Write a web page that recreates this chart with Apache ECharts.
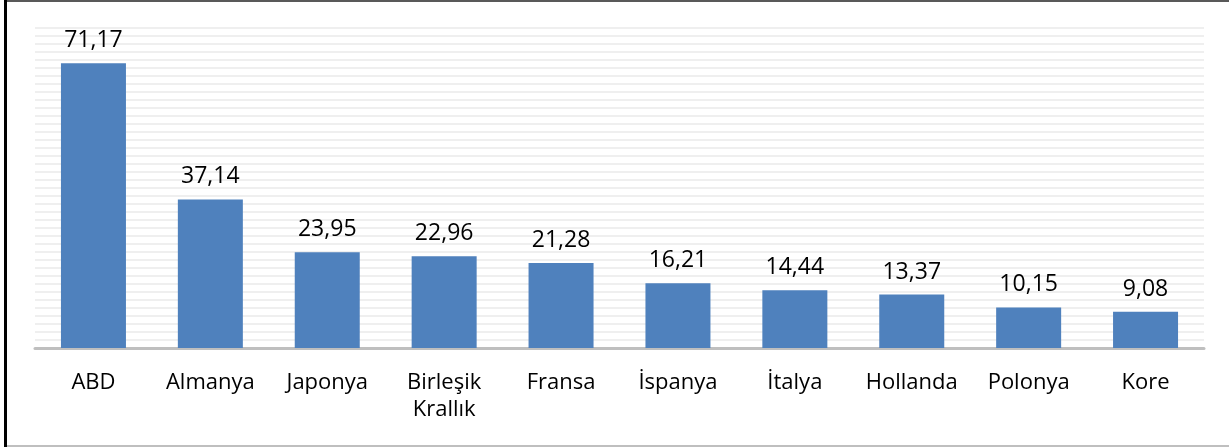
<!DOCTYPE html>
<html>
<head>
<meta charset="utf-8">
<script src="https://cdn.jsdelivr.net/npm/echarts@6/dist/echarts.min.js"></script>
<style>
html,body{margin:0;padding:0;background:#fff;}
#c{width:1229px;height:447px;}
</style>
</head>
<body>
<div id="c"></div>
<script>
const categories = ['ABD','Almanya','Japonya','Birleşik\nKrallık','Fransa','İspanya','İtalya','Hollanda','Polonya','Kore'];
const values = [71.17, 37.14, 23.95, 22.96, 21.28, 16.21, 14.44, 13.37, 10.15, 9.08];

const chart = echarts.init(document.getElementById('c'), null, {renderer:'canvas'});
const font = '"Open Sans", "Liberation Sans", sans-serif';
chart.setOption({
  animation:false,
  backgroundColor:'#ffffff',
  grid:{left:35, right:25, top:28, bottom:99, containLabel:false},
  xAxis:{
    type:'category',
    data:categories,
    axisLine:{show:true, lineStyle:{color:'#bfbfbf', width:3}},
    axisTick:{show:false},
    axisLabel:{color:'#000', fontSize:22, fontFamily:font, margin:21, lineHeight:27, interval:0}
  },
  yAxis:{
    type:'value', min:0, max:80, interval:2,
    axisLabel:{show:false},
    axisLine:{show:false},
    axisTick:{show:false},
    splitLine:{show:true, lineStyle:{color:'#efefef', width:2}}
  },
  series:[{
    type:'bar',
    data:values,
    barWidth:65,
    itemStyle:{color:'#4f81bd'},
    label:{show:true, position:'top', distance:11, color:'#000', fontSize:23, fontFamily:font,
      formatter:p=>p.value.toFixed(2).replace('.', ',')}
  }],
  graphic:[
    {type:'rect', shape:{x:4, y:0, width:3, height:447}, style:{fill:'#000'}},
    {type:'rect', shape:{x:7, y:0, width:1222, height:2}, style:{fill:'#595959'}},
    {type:'rect', shape:{x:7, y:445, width:1222, height:2}, style:{fill:'#bfbfbf'}}
  ]
});
</script>
</body>
</html>
